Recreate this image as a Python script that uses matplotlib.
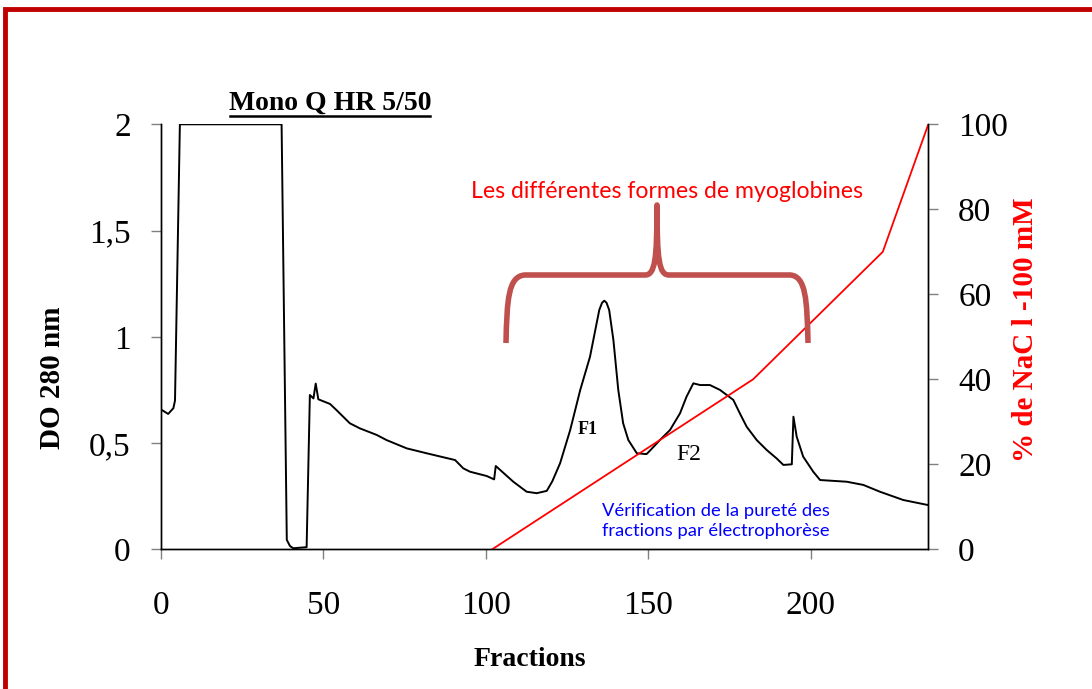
import matplotlib
matplotlib.use("Agg")
import matplotlib.pyplot as plt
from matplotlib.path import Path
from matplotlib.patches import PathPatch, Rectangle
from matplotlib.lines import Line2D

# ---- data ----
frac = [0.3, 2.3, 3.9, 4.4, 5.9, 37.2, 38.8, 39.8, 40.8, 44.9, 45.9, 47.0, 47.7, 48.5,
        52.1, 54.1, 58.2, 61.3, 66.5, 69.5, 75.7, 81.8, 87.0, 90.6, 93.1, 95.2, 100.3,
        102.6, 103.1, 108.5, 112.6, 115.7, 118.8, 120.5, 122.9, 126.0, 129.1, 132.1,
        134.95, 135.8, 136.5, 137.2, 138.0, 139.3, 140.8, 142.3, 143.9, 146.5, 149.5,
        150.6, 153.6, 156.7, 159.8, 161.8, 163.9, 166.0, 169.0, 172.1, 176.2, 178.2,
        180.3, 183.4, 186.5, 189.5, 191.6, 194.2, 194.7, 195.7, 197.7, 200.8, 202.9,
        211.1, 216.2, 221.3, 228.5, 236.2]
do280 = [0.656, 0.637, 0.664, 0.70, 2.0, 2.0, 0.044, 0.015, 0.005, 0.01, 0.726, 0.71, 0.78, 0.706,
         0.684, 0.655, 0.593, 0.569, 0.538, 0.514, 0.475, 0.452, 0.433, 0.42, 0.381, 0.365, 0.345,
         0.329, 0.392, 0.318, 0.271, 0.264, 0.275, 0.32, 0.405, 0.561, 0.75, 0.906,
         1.126, 1.16, 1.17, 1.16, 1.126, 0.985, 0.75, 0.593, 0.514, 0.452, 0.448,
         0.465, 0.514, 0.561, 0.64, 0.718, 0.781, 0.773, 0.773, 0.75, 0.703, 0.64,
         0.577, 0.514, 0.467, 0.428, 0.397, 0.40, 0.624, 0.53, 0.436, 0.365, 0.326,
         0.318, 0.303, 0.271, 0.232, 0.208]
grad_frac = [102, 182.3, 222.2, 236.2]
grad_nacl = [0, 40, 70, 100]

xticks = [0, 50, 100, 150, 200]
yticks_left = [0, 0.5, 1, 1.5, 2]
yticklabels_left = ["0", "0,5", "1", "1,5", "2"]
yticks_right = [0, 20, 40, 60, 80, 100]

W, H = 1092, 689
SERIF = ["Liberation Serif", "DejaVu Serif"]
SANS = ["Lato", "DejaVu Sans"]

fig = plt.figure(figsize=(W / 100, H / 100), dpi=100)
fig.patch.set_facecolor("white")

def fx(px):
    return px / W

def fy(py):
    return 1 - py / H

# red frame
fig.patches.append(Rectangle((fx(5), fy(720)), 1.2, fy(9) - fy(720), transform=fig.transFigure,
                             fill=False, edgecolor="#C00000", linewidth=3.5, zorder=0))

ax = fig.add_axes([fx(160.7), fy(549.3), fx(928.3) - fx(160.7), fy(124.3) - fy(549.3)])
ax2 = ax.twinx()

ax.plot(frac, do280, color="black", lw=1.4, zorder=3)
ax2.plot(grad_frac, grad_nacl, color="red", lw=1.3)

ax.set_xlim(0, 236.2)
ax.set_ylim(0, 2)
ax2.set_ylim(0, 100)

for a in (ax, ax2):
    a.spines["top"].set_visible(False)
    for s in a.spines.values():
        s.set_linewidth(1.0)
        s.set_color("black")
    a.set_facecolor("none")

ax.set_xticks(xticks)
ax.set_xticklabels([str(v) for v in xticks], family=SERIF, fontsize=24)
ax.set_yticks(yticks_left)
ax.set_yticklabels(yticklabels_left, family=SERIF, fontsize=24)
ax2.set_yticks(yticks_right)
ax2.set_yticklabels([str(v) for v in yticks_right], family=SERIF, fontsize=24)

ax.tick_params(axis="x", direction="out", length=7.5, width=1, color="#808080", pad=22.5)
ax.tick_params(axis="y", direction="out", length=7.5, width=1, color="#808080", pad=14)
ax2.tick_params(axis="y", direction="out", length=7.5, width=1, color="#808080", pad=14)

ax.set_xlabel("Fractions", family=SERIF, fontsize=20, fontweight="bold")
ax.xaxis.set_label_coords(0.481, -0.230)
ax.set_ylabel("DO 280 nm", family=SERIF, fontsize=21, fontweight="bold")
ax.yaxis.set_label_coords(-0.124, 0.403)
ax2.set_ylabel("% de NaC l -100 mM", family=SERIF, fontsize=21, fontweight="bold", color="red",
               rotation=90)
ax2.yaxis.set_label_coords(1.109, 0.516)

# title with underline
fig.text(fx(330), fy(103), "Mono Q HR 5/50", family=SERIF, fontsize=20, fontweight="bold",
         ha="center", va="center")
fig.lines.append(Line2D([fx(230), fx(430)], [fy(115.5), fy(115.5)], transform=fig.transFigure,
                        color="black", lw=1.8))

# annotations
fig.text(fx(667), fy(192), "Les différentes formes de myoglobines", family=SANS, fontsize=16.6,
         color="#FF0000", ha="center", va="center")
fig.text(fx(716), fy(521), "Vérification de la pureté des\nfractions par électrophorèse",
         family=SANS, fontsize=13.2, color="#0000FF", ha="center", va="center", linespacing=1.3)
fig.text(fx(588), fy(429), "F1", family=SERIF, fontsize=13, fontweight="bold", ha="center",
         va="center")
fig.text(fx(689), fy(455), "F2", family=SERIF, fontsize=17, ha="center", va="center")

# curly brace
pts = [(fx(506), fy(343)),
       (fx(507), fy(300)), (fx(508), fy(276)), (fx(525), fy(275)),
       (fx(645), fy(275)),
       (fx(655), fy(275)), (fx(657), fy(260)), (fx(657), fy(205)),
       (fx(657), fy(260)), (fx(659), fy(275)), (fx(669), fy(275)),
       (fx(790), fy(275)),
       (fx(806), fy(276)), (fx(807), fy(300)), (fx(808), fy(343))]
codes = [Path.MOVETO,
         Path.CURVE4, Path.CURVE4, Path.CURVE4,
         Path.LINETO,
         Path.CURVE4, Path.CURVE4, Path.CURVE4,
         Path.CURVE4, Path.CURVE4, Path.CURVE4,
         Path.LINETO,
         Path.CURVE4, Path.CURVE4, Path.CURVE4]
fig.patches.append(PathPatch(Path(pts, codes), transform=fig.transFigure, fill=False,
                             edgecolor="#C0504D", lw=4, capstyle="butt", joinstyle="round"))

fig.savefig("out.png", dpi=100)
